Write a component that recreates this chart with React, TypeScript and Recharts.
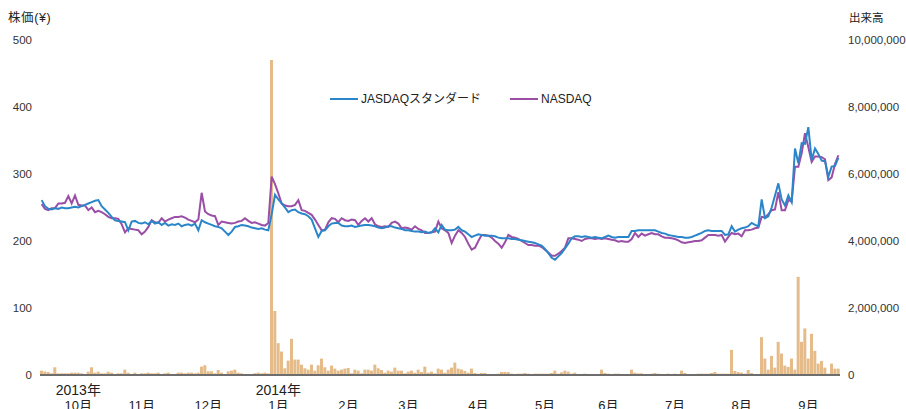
import { ComposedChart, Bar, Line, XAxis, YAxis, Legend } from "recharts"

const FONT = '"Liberation Sans", Arial, "Noto Sans CJK JP", sans-serif'

// 日次終値（円）
const jasdaq = [
  261, 252, 248, 247, 249, 248, 250, 249, 249, 250,
  251, 250, 252, 254, 256, 258, 260, 261, 252, 247,
  242, 236, 231, 230, 229, 228, 216, 229, 230, 227,
  226, 228, 225, 230, 226, 228, 224, 227, 223, 225,
  224, 226, 222, 224, 225, 223, 226, 216, 231, 228,
  226, 224, 222, 221, 219, 214, 209, 214, 221, 222,
  224, 223, 222, 220, 219, 218, 219, 217, 216, 240,
  269, 262, 256, 250, 243, 246, 247, 243, 241, 240,
  237, 232, 219, 206, 215, 216, 222, 226, 227, 227,
  223, 222, 222, 223, 221, 222, 223, 224, 224, 223,
  222, 220, 219, 220, 222, 222, 220, 219, 218, 216,
  216, 215, 214, 214, 213, 214, 212, 213, 219, 213,
  224, 217, 216, 216, 217, 221, 216, 214, 210, 206,
  208, 210, 209, 208, 208, 208, 207, 205, 204, 204,
  204, 203, 203, 202, 201, 200, 199, 198, 197, 195,
  193, 188, 182, 175, 172, 177, 182, 189, 196, 204,
  207, 207, 206, 207, 206, 205, 206, 205, 204, 206,
  208, 206, 205, 206, 206, 206, 206, 215, 215, 216,
  216, 216, 216, 216, 216, 214, 212, 211, 209, 208,
  207, 206, 206, 205, 205, 206, 208, 210, 212, 215,
  216, 215, 215, 215, 215, 209, 210, 222, 214, 217,
  219, 220, 222, 227, 224, 222, 262, 234, 237, 250,
  268, 286, 262, 253, 268, 258, 338, 316, 346, 345,
  370, 321, 338, 330, 320, 319, 296, 311, 312, 324,
]

const nasdaq = [
  255, 248, 246, 249, 249, 256, 256, 257, 267, 256,
  268, 254, 253, 253, 246, 250, 243, 245, 243, 240,
  236, 234, 234, 233, 225, 213, 219, 218, 217, 216,
  210, 214, 221, 231, 228, 227, 234, 229, 232, 234,
  236, 236, 237, 235, 232, 230, 228, 232, 272, 244,
  240, 238, 237, 224, 229, 228, 227, 226, 227, 229,
  230, 234, 230, 227, 228, 226, 224, 223, 227, 296,
  285, 271, 256, 253, 252, 252, 254, 261, 246, 245,
  242, 239, 232, 224, 216, 217, 228, 234, 233, 228,
  234, 231, 230, 232, 231, 224, 230, 234, 229, 234,
  225, 222, 221, 222, 221, 227, 229, 226, 219, 220,
  219, 217, 222, 218, 216, 212, 212, 213, 214, 229,
  219, 216, 212, 197, 208, 216, 212, 206, 196, 187,
  190, 200, 209, 209, 208, 205, 200, 196, 190, 198,
  209, 206, 205, 203, 200, 197, 194, 194, 193, 193,
  191, 187, 183, 178, 178, 181, 185, 190, 204, 204,
  203, 202, 200, 203, 204, 204, 203, 204, 203, 204,
  203, 202, 201, 199, 200, 199, 199, 203, 212, 206,
  211, 208, 210, 212, 210, 210, 207, 205, 205, 204,
  203, 201, 198, 197, 198, 199, 200, 200, 201, 205,
  209, 209, 209, 208, 209, 199, 206, 212, 210, 211,
  207, 216, 216, 217, 219, 220, 236, 235, 240, 246,
  247, 273, 246, 246, 261, 259, 311, 311, 331, 361,
  340, 318, 326, 326, 325, 322, 291, 295, 315, 328,
]

// 出来高（株）
const volume = [
  130000, 105000, 90000, 50000, 230000, 50000, 50000, 50000, 50000, 70000,
  70000, 70000, 50000, 30000, 100000, 230000, 70000, 100000, 50000, 50000,
  100000, 70000, 30000, 50000, 50000, 160000, 70000, 30000, 70000, 30000,
  50000, 50000, 70000, 50000, 50000, 70000, 30000, 50000, 70000, 30000,
  30000, 70000, 70000, 50000, 70000, 70000, 50000, 70000, 250000, 290000,
  110000, 110000, 50000, 150000, 70000, 30000, 110000, 130000, 160000, 70000,
  50000, 15000, 30000, 30000, 50000, 70000, 50000, 70000, 50000, 9400000,
  1910000, 950000, 700000, 200000, 430000, 1080000, 460000, 460000, 310000, 200000,
  160000, 310000, 130000, 290000, 490000, 230000, 130000, 280000, 190000, 130000,
  160000, 190000, 210000, 50000, 160000, 130000, 50000, 160000, 160000, 130000,
  310000, 200000, 150000, 70000, 130000, 100000, 220000, 130000, 130000, 50000,
  100000, 130000, 70000, 160000, 90000, 250000, 70000, 100000, 50000, 190000,
  160000, 70000, 160000, 220000, 370000, 190000, 165000, 120000, 70000, 190000,
  60000, 40000, 60000, 60000, 0, 0, 0, 40000, 90000, 90000,
  90000, 40000, 10000, 40000, 40000, 60000, 40000, 10000, 40000, 40000,
  40000, 40000, 40000, 60000, 130000, 40000, 80000, 130000, 100000, 40000,
  70000, 0, 0, 40000, 0, 0, 0, 0, 160000, 60000,
  40000, 0, 40000, 40000, 0, 0, 0, 160000, 70000, 50000,
  50000, 10000, 10000, 40000, 60000, 40000, 10000, 10000, 40000, 10000,
  40000, 10000, 130000, 60000, 10000, 10000, 10000, 40000, 40000, 40000,
  40000, 60000, 90000, 40000, 40000, 40000, 40000, 750000, 120000, 90000,
  70000, 40000, 150000, 60000, 20000, 20000, 1130000, 490000, 160000, 570000,
  220000, 990000, 640000, 280000, 240000, 490000, 160000, 2930000, 990000, 1390000,
  490000, 1230000, 720000, 340000, 420000, 220000, 40000, 340000, 190000, 190000,
]

const monthTicks = [11, 30, 50, 71, 92, 110, 131, 151, 170, 190, 210, 230]
const monthLabels = ["10月", "11月", "12月", "1月", "2月", "3月", "4月", "5月", "6月", "7月", "8月", "9月"]
const yearTicks = [11, 71]
const yearLabels = ["2013年", "2014年"]

const priceTicks = [0, 100, 200, 300, 400, 500]
const volumeTicks = [0, 2000000, 4000000, 6000000, 8000000, 10000000]

const data = jasdaq.map((v, i) => ({
  i,
  jasdaq: v,
  nasdaq: nasdaq[i],
  volume: volume[i],
}))

function MonthTick(props: any) {
  const { x, payload } = props
  const k = monthTicks.indexOf(payload.value)
  const y = yearTicks.indexOf(payload.value)
  return (
    <g fill="#222">
      {y >= 0 && (
        <text x={x} y={395} textAnchor="middle" fontSize={14}>
          {yearLabels[y]}
        </text>
      )}
      <text x={x} y={410} textAnchor="middle" fontSize={13}>
        {monthLabels[k]}
      </text>
    </g>
  )
}

function LegendBox() {
  const item = (color: string, label: string, ml: number) => (
    <div style={{ display: "flex", alignItems: "center", marginLeft: ml }}>
      <div style={{ width: 28, height: 2, background: color, marginRight: 3 }} />
      <span style={{ fontSize: 12, color: "#222", lineHeight: "14px" }}>{label}</span>
    </div>
  )
  return (
    <div style={{ display: "flex", alignItems: "center" }}>
      {item("#2b86c9", "JASDAQスタンダード", 0)}
      {item("#9a4ea6", "NASDAQ", 29)}
    </div>
  )
}

export default function App() {
  return (
    <div
      style={{
        position: "absolute",
        left: 0,
        top: 0,
        width: 906,
        height: 409,
        fontFamily: FONT,
        background: "#fff",
      }}
    >
      <div
        style={{
          position: "absolute",
          left: 8,
          top: 12,
          fontSize: 12.5,
          letterSpacing: 0.6,
          lineHeight: "12px",
          color: "#222",
        }}
      >
        株価(¥)
      </div>
      <div style={{ position: "absolute", left: 849, top: 12, fontSize: 11.5, lineHeight: "12px", color: "#222" }}>
        出来高
      </div>
      <ComposedChart
        width={906}
        height={409}
        data={data}
        margin={{ top: 40, right: 0, bottom: 0, left: 0 }}
        barCategoryGap={0}
      >
        <XAxis
          dataKey="i"
          ticks={monthTicks}
          interval={0}
          tickLine={false}
          axisLine={{ stroke: "#6e6e6e", strokeWidth: 2 }}
          height={34}
          tick={(p: any) => <MonthTick {...p} />}
        />
        <YAxis
          yAxisId="price"
          width={40}
          domain={[0, 500]}
          ticks={priceTicks}
          axisLine={false}
          tickLine={false}
          tick={{ fontSize: 11.5, fill: "#333" }}
        />
        <YAxis
          yAxisId="vol"
          orientation="right"
          width={66}
          domain={[0, 10000000]}
          ticks={volumeTicks}
          axisLine={false}
          tickLine={false}
          tick={{ fontSize: 11.5, fill: "#333" }}
          tickFormatter={(v: number) => v.toLocaleString("en-US")}
        />
        <Legend
          layout="horizontal"
          verticalAlign="middle"
          align="center"
          wrapperStyle={{ position: "absolute", top: 92, left: 330, width: 300 }}
          content={() => <LegendBox />}
        />
        <Bar yAxisId="vol" dataKey="volume" fill="#e4bb89" isAnimationActive={false} />
        <Line
          yAxisId="price"
          type="linear"
          dataKey="nasdaq"
          stroke="#9a4ea6"
          strokeWidth={2}
          dot={false}
          isAnimationActive={false}
        />
        <Line
          yAxisId="price"
          type="linear"
          dataKey="jasdaq"
          stroke="#2b86c9"
          strokeWidth={2}
          dot={false}
          isAnimationActive={false}
        />
      </ComposedChart>
    </div>
  )
}
